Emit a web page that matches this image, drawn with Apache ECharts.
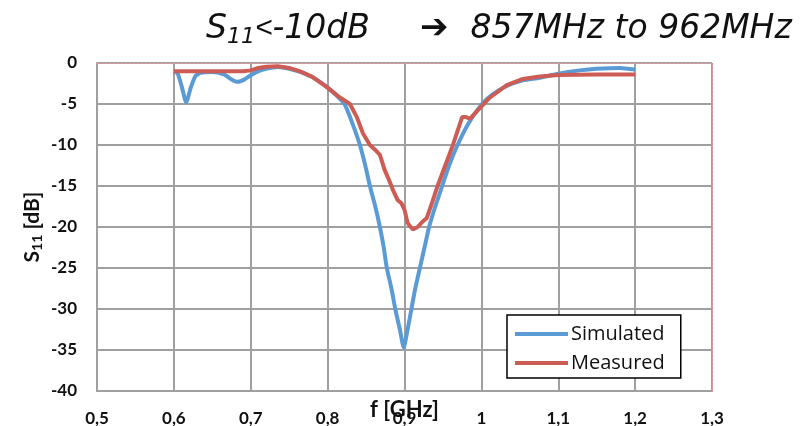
<!DOCTYPE html>
<html>
<head>
<meta charset="utf-8">
<script src="https://cdn.jsdelivr.net/npm/echarts@6/dist/echarts.min.js"></script>
<style>
  html, body { margin: 0; padding: 0; background: #fff; }
  #chart { width: 804px; height: 426px; }
</style>
</head>
<body>
<div id="chart"></div>
<script>
// simulated S11 (GHz, dB)
const simFreq = [0.600, 0.605, 0.610, 0.616, 0.622, 0.628, 0.635, 0.650, 0.665, 0.675, 0.683, 0.692, 0.700, 0.710, 0.720, 0.735, 0.750, 0.765, 0.780, 0.790, 0.800, 0.811, 0.822, 0.832, 0.842, 0.849, 0.855, 0.862, 0.868, 0.873, 0.877, 0.883, 0.888, 0.894, 0.899, 0.904, 0.909, 0.914, 0.920, 0.926, 0.932, 0.940, 0.949, 0.958, 0.969, 0.983, 1.000, 1.015, 1.033, 1.054, 1.076, 1.100, 1.128, 1.150, 1.180, 1.200]
const simS11 = [-1.0, -1.3, -2.8, -4.8, -3.0, -1.6, -1.2, -1.1, -1.4, -2.0, -2.3, -2.0, -1.5, -1.0, -0.7, -0.5, -0.7, -1.1, -1.7, -2.3, -3.0, -3.9, -5.0, -7.3, -10.0, -12.5, -15.0, -17.5, -20.0, -22.5, -25.0, -27.5, -30.0, -32.5, -34.7, -32.5, -30.0, -27.5, -25.0, -22.5, -20.0, -17.5, -15.0, -12.5, -10.0, -7.4, -5.1, -3.8, -2.8, -2.1, -1.8, -1.3, -0.9, -0.7, -0.6, -0.8]

// measured S11 (GHz, dB)
const measFreq = [0.600, 0.650, 0.690, 0.700, 0.710, 0.720, 0.735, 0.750, 0.765, 0.780, 0.800, 0.813, 0.829, 0.838, 0.846, 0.855, 0.862, 0.868, 0.874, 0.880, 0.885, 0.891, 0.896, 0.900, 0.904, 0.908, 0.911, 0.917, 0.923, 0.929, 0.936, 0.943, 0.953, 0.963, 0.970, 0.975, 0.980, 0.985, 0.998, 1.010, 1.033, 1.054, 1.076, 1.100, 1.150, 1.200]
const measS11 = [-1.0, -1.0, -1.0, -0.9, -0.6, -0.45, -0.4, -0.6, -1.05, -1.7, -3.0, -4.0, -5.0, -6.6, -8.6, -10.0, -10.6, -11.2, -13.0, -14.3, -15.5, -16.7, -17.1, -17.9, -19.5, -20.0, -20.3, -20.0, -19.4, -18.9, -17.0, -15.0, -12.5, -10.0, -8.0, -6.6, -6.6, -6.8, -5.5, -4.3, -2.7, -1.95, -1.65, -1.45, -1.4, -1.4]

const xTicks = [0.5, 1.3, 0.1]   // min, max, step
const yTicks = [-40, 0, 5]

const pair = (xs, ys) => xs.map((x, i) => [x, ys[i]])

const chart = echarts.init(document.getElementById('chart'))

const gridColor = '#a0a0a0'
const edgeRed = '#e49a9a'

const ital = { fontStyle: 'italic', fontWeight: 'normal', color: '#111' }
const boldLbl = { fontFamily: 'Lato', fontWeight: 'bold', fontSize: 17, color: '#111' }

chart.setOption({
  animation: false,
  backgroundColor: '#fff',
  title: {
    left: 201,
    top: 5,
    text: '{s|S}{sub|11}{lt|<}{it|-10dB}{arr|➔}{it|857MHz to 962MHz}',
    textStyle: {
      fontWeight: 'normal',
      rich: {
        s: Object.assign({ fontFamily: 'DejaVu Sans', fontSize: 33 }, ital),
        sub: Object.assign({ fontFamily: 'DejaVu Sans', fontSize: 22, padding: [16, 0, 0, 0] }, ital),
        lt: Object.assign({ fontFamily: 'Liberation Sans', fontSize: 30 }, ital),
        it: Object.assign({ fontFamily: 'DejaVu Sans', fontSize: 33 }, ital),
        arr: { fontFamily: 'DejaVu Sans', fontWeight: 'bold', fontSize: 34, color: '#111', padding: [0, 22, 0, 50] }
      }
    }
  },
  grid: { left: 97, right: 92, top: 63, bottom: 35, outerBoundsMode: 'none' },
  legend: {
    left: 507,
    top: 315,
    orient: 'vertical',
    icon: 'rect',
    itemWidth: 53,
    itemHeight: 4,
    itemGap: 9,
    padding: [9, 16, 5, 8],
    borderColor: '#000',
    borderWidth: 1.5,
    backgroundColor: '#fff',
    textStyle: { fontFamily: 'Open Sans', fontSize: 20, color: '#111', padding: [0, 0, 0, -2] },
    data: ['Simulated', 'Measured']
  },
  xAxis: [
    {
      type: 'value',
      min: xTicks[0],
      max: xTicks[1],
      interval: xTicks[2],
      name: 'f [GHz]',
      nameLocation: 'middle',
      nameGap: 8,
      nameMoveOverlap: false,
      nameTextStyle: { fontFamily: 'Lato', fontWeight: 'bold', fontSize: 22, color: '#111' },
      axisLine: { onZero: false, lineStyle: { color: gridColor, width: 2 } },
      axisTick: { show: false },
      axisLabel: Object.assign({
        margin: 19,
        formatter: v => String(+v.toFixed(1)).replace('.', ',')
      }, boldLbl),
      splitLine: { show: true, lineStyle: { color: gridColor, width: 2 } }
    },
    {
      type: 'value',
      position: 'top',
      min: xTicks[0],
      max: xTicks[1],
      z: 5,
      axisLine: { show: true, onZero: false, lineStyle: { color: edgeRed, width: 1, type: [2, 2] } },
      axisTick: { show: false },
      axisLabel: { show: false },
      splitLine: { show: false }
    }
  ],
  yAxis: [
    {
      type: 'value',
      min: yTicks[0],
      max: yTicks[1],
      interval: yTicks[2],
      name: '{b|S}{s|11}{b| [dB]}',
      nameLocation: 'middle',
      nameGap: 53,
      nameRotate: 90,
      nameMoveOverlap: false,
      nameTextStyle: {
        rich: {
          b: { fontFamily: 'Lato', fontWeight: 'bold', fontSize: 21, color: '#111' },
          s: { fontFamily: 'Lato', fontWeight: 'bold', fontSize: 14, color: '#111', padding: [9, 0, 0, 0] }
        }
      },
      axisLine: { show: true, onZero: false, lineStyle: { color: gridColor, width: 2 } },
      axisTick: { show: false },
      axisLabel: Object.assign({ margin: 20 }, boldLbl),
      splitLine: { show: true, lineStyle: { color: gridColor, width: 2 } }
    },
    {
      type: 'value',
      position: 'right',
      min: yTicks[0],
      max: yTicks[1],
      z: 5,
      axisLine: { show: true, onZero: false, lineStyle: { color: edgeRed, width: 1, type: [2, 2] } },
      axisTick: { show: false },
      axisLabel: { show: false },
      splitLine: { show: false }
    }
  ],
  series: [
    {
      name: 'Simulated',
      type: 'line',
      data: pair(simFreq, simS11),
      symbol: 'none',
      smooth: 0.2,
      lineStyle: { color: '#5b9bd5', width: 4 },
      itemStyle: { color: '#5b9bd5' },
      z: 3
    },
    {
      name: 'Measured',
      type: 'line',
      data: pair(measFreq, measS11),
      symbol: 'none',
      lineStyle: { color: '#cd5c55', width: 4 },
      itemStyle: { color: '#cd5c55' },
      z: 4
    }
  ]
})
</script>
</body>
</html>
